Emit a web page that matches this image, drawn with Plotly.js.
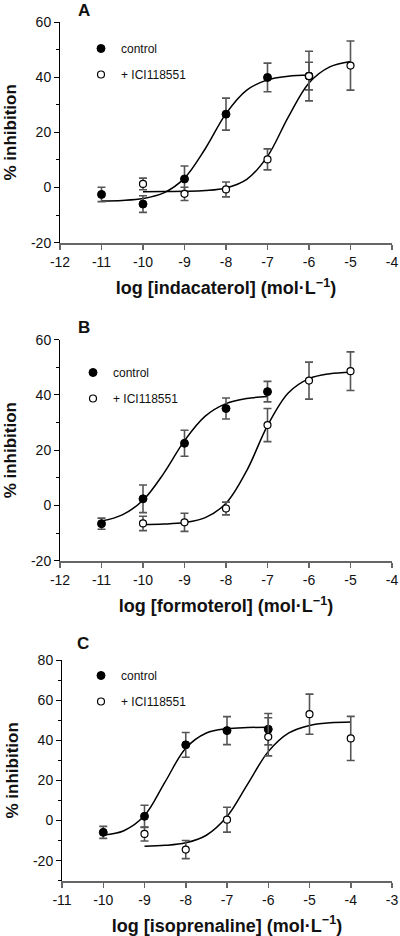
<!DOCTYPE html>
<html>
<head>
<meta charset="utf-8">
<script src="https://cdn.plot.ly/plotly-3.0.1.min.js"></script>
<style>html,body{margin:0;padding:0;background:#fff}#chart{width:400px;height:936px}</style>
</head>
<body>
<div id="chart"></div>
<script>
// ---- Panel A: indacaterol ----
const aCtrlX = [-11, -10, -9, -8, -7, -6];
const aCtrlY = [-2.5, -6.0, 3.1, 26.6, 39.9, 40.4];
const aCtrlErr = [2.6, 3.0, 4.7, 5.8, 5.2, 9.0];
const aIciX = [-10, -9, -8, -7, -6, -5];
const aIciY = [1.3, -2.3, -0.7, 10.2, 40.4, 44.2];
const aIciErr = [2.1, 2.4, 2.7, 3.8, 5.0, 8.9];
const aCtrlFitX = [-11, -10.5, -10, -9.5, -9, -8.5, -8, -7.5, -7, -6.5, -6];
const aCtrlFitY = [-4.9, -4.68, -3.99, -1.96, 3.41, 14.06, 26.79, 35.3, 39.03, 40.36, 40.8];
const aIciFitX = [-10, -9.5, -9, -8.5, -8, -7.5, -7, -6.5, -6, -5.5, -5];
const aIciFitY = [-1.49, -1.47, -1.39, -1.11, -0.16, 2.96, 11.3, 25.53, 37.9, 43.71, 45.68];

// ---- Panel B: formoterol ----
const bCtrlX = [-11, -10, -9, -8, -7];
const bCtrlY = [-6.6, 2.4, 22.5, 35.1, 41.2];
const bCtrlErr = [2.0, 5.0, 4.7, 3.8, 3.7];
const bIciX = [-10, -9, -8, -7, -6, -5];
const bIciY = [-6.5, -6.1, -1.1, 29.1, 45.2, 48.6];
const bIciErr = [2.6, 3.3, 2.3, 6.0, 6.7, 7.0];
const bCtrlFitX = [-11, -10.5, -10, -9.5, -9, -8.5, -8, -7.5, -7];
const bCtrlFitY = [-5.66, -3.41, 1.88, 11.62, 23.45, 32.31, 36.84, 38.7, 39.4];
const bIciFitX = [-10, -9.5, -9, -8.5, -8, -7.5, -7, -6.5, -6, -5.5, -5];
const bIciFitY = [-6.93, -6.76, -6.2, -4.42, 0.78, 12.61, 28.89, 40.72, 45.92, 47.7, 48.26];

// ---- Panel C: isoprenaline ----
const cCtrlX = [-10, -9, -8, -7, -6];
const cCtrlY = [-5.9, 2.1, 37.7, 44.8, 45.5];
const cCtrlErr = [3.0, 5.5, 6.2, 7.0, 7.8];
const cIciX = [-9, -8, -7, -6, -5, -4];
const cIciY = [-6.7, -14.5, 0.4, 41.7, 53.0, 40.9];
const cIciErr = [3.5, 4.5, 6.2, 9.5, 10.0, 11.0];
const cCtrlFitX = [-10, -9.5, -9, -8.5, -8, -7.5, -7, -6.5, -6];
const cCtrlFitY = [-7.28, -5.1, 2.45, 19.25, 36.05, 43.6, 45.78, 46.33, 46.46];
const cIciFitX = [-9, -8.5, -8, -7.5, -7, -6.5, -6, -5.5, -5, -4.5, -4];
const cIciFitY = [-12.8, -12.38, -11.09, -7.34, 1.97, 18.15, 34.33, 43.64, 47.39, 48.68, 49.1];

// ---- Tick labels ----
const xTicksAB = [-12, -11, -10, -9, -8, -7, -6, -5, -4];
const xLabelsAB = ['-12', '-11', '-10', '-9', '-8', '-7', '-6', '-5', '-4'];
const xTicksC = [-11, -10, -9, -8, -7, -6, -5, -4, -3];
const xLabelsC = ['-11', '-10', '-9', '-8', '-7', '-6', '-5', '-4', '-3'];
const yTicksAB = [-20, 0, 20, 40, 60];
const yLabelsAB = ['-20', '0', '20', '40', '60'];
const yTicksC = [-20, 0, 20, 40, 60, 80];
const yLabelsC = ['-20', '0', '20', '40', '60', '80'];

const seriesNames = ['control', '+ ICI118551'];
const drugTitles = [
  'log [indacaterol] (mol·L<sup>−1</sup>)',
  'log [formoterol] (mol·L<sup>−1</sup>)',
  'log [isoprenaline] (mol·L<sup>−1</sup>)'
];
const panelLabels = ['A', 'B', 'C'];

const W = 400, H = 936;
const FONT = 'Liberation Sans, Arial, Helvetica, sans-serif';
const px = v => v / W;
const py = v => (H - v) / H;

const errStyle = arr => ({type: 'data', array: arr, visible: true, color: '#555', thickness: 1.6, width: 4});

function panel(idx, ctrlX, ctrlY, ctrlErr, iciX, iciY, iciErr, cfx, cfy, ifx, ify) {
  const s = idx === 1 ? '' : String(idx);
  const xa = 'x' + s, ya = 'y' + s;
  const lg = 'legend' + s;
  return [
    {x: cfx, y: cfy, xaxis: xa, yaxis: ya, mode: 'lines', line: {color: '#000', width: 1.5, shape: 'spline'}, showlegend: false, hoverinfo: 'skip'},
    {x: ifx, y: ify, xaxis: xa, yaxis: ya, mode: 'lines', line: {color: '#000', width: 1.5, shape: 'spline'}, showlegend: false, hoverinfo: 'skip'},
    {x: ctrlX, y: ctrlY, error_y: errStyle(ctrlErr), xaxis: xa, yaxis: ya, mode: 'markers', name: seriesNames[0],
     marker: {symbol: 'circle', size: 8, color: '#000', line: {color: '#000', width: 1}}, legend: lg, legendgroup: lg + 'a'},
    {x: iciX, y: iciY, error_y: errStyle(iciErr), xaxis: xa, yaxis: ya, mode: 'markers', name: seriesNames[1],
     marker: {symbol: 'circle', size: 7, color: '#fff', line: {color: '#000', width: 1.2}}, legend: lg, legendgroup: lg + 'b'}
  ];
}

const data = [].concat(
  panel(1, aCtrlX, aCtrlY, aCtrlErr, aIciX, aIciY, aIciErr, aCtrlFitX, aCtrlFitY, aIciFitX, aIciFitY),
  panel(2, bCtrlX, bCtrlY, bCtrlErr, bIciX, bIciY, bIciErr, bCtrlFitX, bCtrlFitY, bIciFitX, bIciFitY),
  panel(3, cCtrlX, cCtrlY, cCtrlErr, cIciX, cIciY, cIciErr, cCtrlFitX, cCtrlFitY, cIciFitX, cIciFitY)
);

function xAxis(domainL, domainR, range, tv, tt, title, anchor) {
  return {
    domain: [px(domainL), px(domainR)], range: range, anchor: anchor,
    tickmode: 'array', tickvals: tv, ticktext: tt,
    ticks: 'outside', ticklen: 5, tickwidth: 1.5, tickcolor: '#666',
    showline: true, linecolor: '#666', linewidth: 2,
    showgrid: false, zeroline: false,
    tickfont: {family: FONT, size: 14, color: '#111'},
    title: {text: title, font: {family: FONT, size: 18, color: '#111', weight: 700}, standoff: 13}
  };
}
function yAxis(top, bottom, range, tv, tt, anchor) {
  return {
    domain: [py(bottom), py(top)], range: range, anchor: anchor,
    tickmode: 'array', tickvals: tv, ticktext: tt,
    ticks: 'outside', ticklen: 5, tickwidth: 1, tickcolor: '#000',
    minor: {tickmode: 'linear', tick0: 0, dtick: 10, ticks: 'outside', ticklen: 3, tickwidth: 1, tickcolor: '#000', showgrid: false},
    showline: true, linecolor: '#000', linewidth: 1,
    showgrid: false, zeroline: false,
    tickfont: {family: FONT, size: 14, color: '#111'},
    title: {text: '% inhibition', font: {family: FONT, size: 17, color: '#111', weight: 700}, standoff: 10}
  };
}
function legendAt(left, top) {
  return {x: px(left), y: py(top), xanchor: 'left', yanchor: 'top', bgcolor: 'rgba(0,0,0,0)',
    borderwidth: 0, font: {family: FONT, size: 12, color: '#111'}, traceorder: 'grouped', tracegroupgap: 7};
}

const layout = {
  width: W, height: H,
  margin: {l: 0, r: 0, t: 0, b: 0},
  paper_bgcolor: '#fff', plot_bgcolor: '#fff',
  showlegend: true,
  font: {family: FONT, color: '#111'},
  xaxis: xAxis(60, 392, [-12, -4], xTicksAB, xLabelsAB, drugTitles[0], 'y'),
  yaxis: yAxis(22, 242.7, [-20, 60], yTicksAB, yLabelsAB, 'x'),
  xaxis2: xAxis(60, 392, [-12, -4], xTicksAB, xLabelsAB, drugTitles[1], 'y2'),
  yaxis2: yAxis(339.7, 560.7, [-20, 60], yTicksAB, yLabelsAB, 'x2'),
  xaxis3: xAxis(62, 392, [-11, -3], xTicksC, xLabelsC, drugTitles[2], 'y3'),
  yaxis3: yAxis(660, 880.7, [-30, 80], yTicksC, yLabelsC, 'x3'),
  legend: legendAt(81, 34),
  legend2: legendAt(73, 358),
  legend3: legendAt(81, 661),
  annotations: [
    {text: panelLabels[0], x: px(84), y: py(11), xref: 'paper', yref: 'paper', xanchor: 'center', yanchor: 'middle', showarrow: false, font: {family: FONT, size: 17, weight: 700, color: '#111'}},
    {text: panelLabels[1], x: px(84), y: py(327), xref: 'paper', yref: 'paper', xanchor: 'center', yanchor: 'middle', showarrow: false, font: {family: FONT, size: 17, weight: 700, color: '#111'}},
    {text: panelLabels[2], x: px(83), y: py(643), xref: 'paper', yref: 'paper', xanchor: 'center', yanchor: 'middle', showarrow: false, font: {family: FONT, size: 17, weight: 700, color: '#111'}}
  ]
};

Plotly.newPlot('chart', data, layout, {staticPlot: true, displayModeBar: false});
</script>
</body>
</html>
